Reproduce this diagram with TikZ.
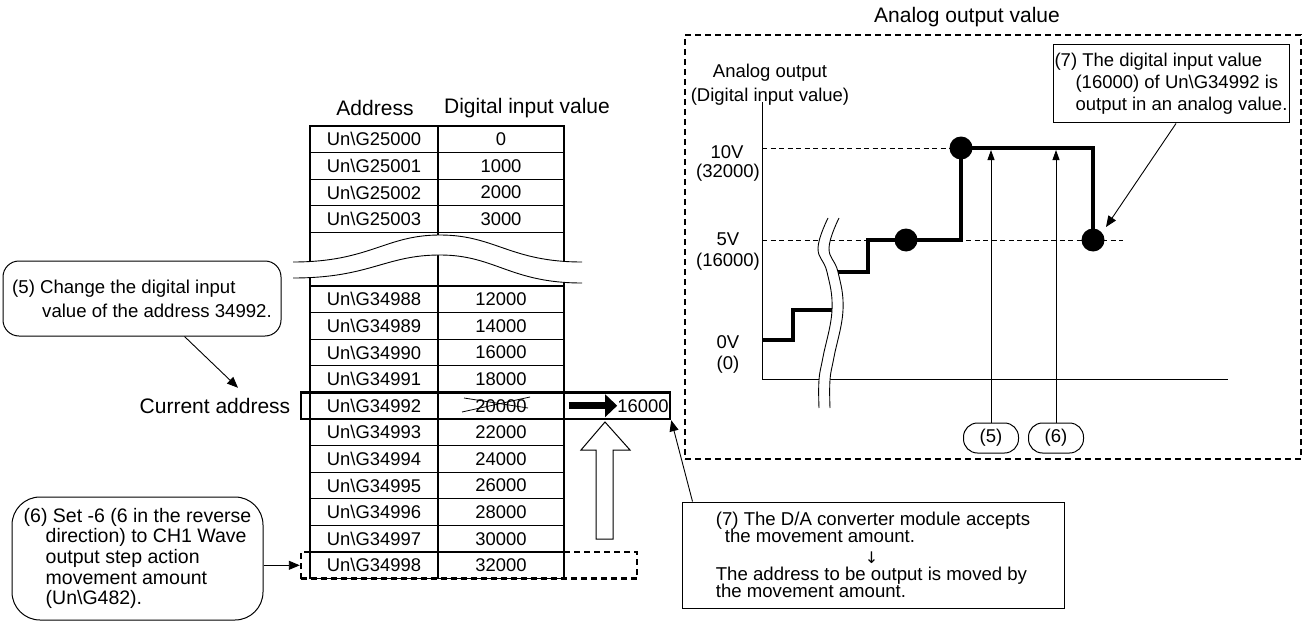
\documentclass[tikz,border=0pt]{standalone}
\usepackage{fontspec}
\setmainfont{Liberation Sans}
\newfontfamily\djv{DejaVu Sans}
\usetikzlibrary{arrows.meta,calc}
\setlength{\lineskiplimit}{-10pt}
\begin{document}
\begin{tikzpicture}[x=1pt,y=-1pt,
  line join=miter,
  acell/.style={draw,line width=1.1pt,minimum width=128pt,minimum height=26.6pt,inner sep=0pt,font=\fontsize{18.4}{22}\selectfont},
  vcell/.style={acell,minimum width=126pt},
  hdr/.style={inner sep=0pt,font=\fontsize{21}{25}\selectfont},
  lbl/.style={inner sep=0pt,font=\fontsize{18.5}{22}\selectfont},
  cbox/.style={draw,line width=1pt,align=left,inner xsep=2pt,inner ysep=0pt},
  thinarr/.style={line width=0.9pt,-{Triangle[length=11pt,width=9pt]}},
  garr/.style={line width=0.9pt,-{Triangle[length=10pt,width=7pt]}},
  dashbox/.style={draw,line width=2.4pt,dash pattern=on 6pt off 4pt,inner sep=0pt},
  guide/.style={line width=0.8pt,dash pattern=on 5pt off 3.5pt},
  stepln/.style={line width=4pt},
  gdot/.style={circle,fill=black,inner sep=0pt,minimum size=23pt},
  oval/.style={draw,line width=1pt,rounded corners=14pt,minimum width=55pt,minimum height=30pt,inner sep=0pt,font=\fontsize{18.5}{22}\selectfont},
]
\useasboundingbox (0,0) rectangle (1308,623);

% ---------- table ----------
\node[hdr] (hA) at (375,108) {Address};
\node[hdr] (hV) at (527,108) {Digital input value};

\foreach \a/\v/\y in {25000/0/139.3, 25001/1000/165.9, 25002/2000/192.5, 25003/3000/219.1}{
  \node[acell] (a\a) at (374,\y) {Un\textbackslash G\a};
  \node[vcell] (v\a) at (501,\y) {\v};
}
\node[acell,minimum height=53.5pt] (ablank) at (374,259.25) {};
\node[vcell,minimum height=53.5pt] (vblank) at (501,259.25) {};

\foreach \a/\v/\y in {34988/12000/299.3, 34989/14000/325.9, 34990/16000/352.5, 34991/18000/379.1,
  34992/20000/405.7, 34993/22000/432.3, 34994/24000/458.9, 34995/26000/485.5,
  34996/28000/512.1, 34997/30000/538.7, 34998/32000/565.3}{
  \node[acell] (a\a) at (374,\y) {Un\textbackslash G\a};
  \node[vcell] (v\a) at (501,\y) {\v};
}

% break of the table
\fill[white] (293,262) .. controls (370,262) and (385,235) .. (440,235) .. controls (495,235) and (510,262) .. (582,262)
  -- (582,283) .. controls (510,283) and (495,255) .. (440,255) .. controls (385,255) and (370,278) .. (293,278) -- cycle;
\draw[line width=0.9pt] (293,262) .. controls (370,262) and (385,235) .. (440,235) .. controls (495,235) and (510,262) .. (582,262);
\draw[line width=0.9pt] (293,278) .. controls (370,278) and (385,255) .. (440,255) .. controls (495,255) and (510,283) .. (582,283);

% strike-through of 20000
\draw[line width=0.8pt] ($(v34992.center)+(-39,6.3)$) -- ($(v34992.center)+(29,-8.7)$);
\draw[line width=0.8pt] ($(v34992.center)+(-37,-7.7)$) -- ($(v34992.center)+(27,2.3)$);

% current address box and new value
\node[draw,line width=2.5pt,minimum width=369pt,minimum height=26.6pt,inner sep=0pt] (cur) at (485.5,405.7) {};
\node[inner sep=0pt,font=\fontsize{18.4}{22}\selectfont] (newval) at (643,405.7) {16000};
\draw[line width=7pt,-{Triangle[length=12pt,width=22pt]}] ($(v34992.east)+(4,0)$) -- (newval.west);

% hollow up arrow
\draw[line width=1pt,fill=white] (596,539) -- (613,539) -- (613,450) -- (630,450) -- (605,422) -- (581,450) -- (596,450) -- cycle;

% dashed selection of row 34998
\node[dashbox,minimum width=336pt,minimum height=26.6pt] (rowsel) at (469,565.3) {};

% ---------- left callouts ----------
\node[cbox,rounded corners=16pt,minimum width=278pt,minimum height=75pt,font=\fontsize{18.6}{24}\selectfont] (c5) at (142,298.5)
  {(5) Change the digital input\\\hspace*{30pt}value of the address 34992.};
\node[hdr] (curlbl) at (215,405.7) {Current address};
\draw[thinarr] ($(c5.south west)+(182,0)$) -- ($(curlbl.north)+(23,-10)$);

\node[cbox,rounded corners=28pt,minimum width=251pt,minimum height=123pt,font=\fontsize{19.5}{20.7}\selectfont] (c6) at (137.5,558.5)
  {(6) Set -6 (6 in the reverse\\\hspace*{22pt}direction) to CH1 Wave\\\hspace*{22pt}output step action\\\hspace*{22pt}movement amount\\\hspace*{22pt}(Un\textbackslash G482).};
\draw[thinarr] (c6.east |- rowsel.west) -- (rowsel.west);

% ---------- bottom right callout ----------
\node[cbox,minimum width=382pt,minimum height=106pt,font=\fontsize{18.6}{17}\selectfont] (c7b) at (873,555)
  {(7) The D/A converter module accepts\\\hspace*{9pt}the movement amount.\\[4pt]\hspace*{149pt}{\djv\fontsize{16}{17}\selectfont ↓}\\The address to be output is moved by\\the movement amount.};
\draw[thinarr] ($(c7b.north west)+(11,0)$) -- (cur.south east);

% ---------- graph ----------
\node[hdr] (title) at (967,17) {Analog output value};
\node[dashbox,minimum width=616pt,minimum height=424pt] (gbox) at (993,247) {};

\node[lbl] (yl1) at (770,73) {Analog output};
\node[lbl] (yl2) at (770,97) {(Digital input value)};
\node[lbl] (l10) at (727,152) {10V};
\node[lbl] (l10b) at (728,173) {(32000)};
\node[lbl] (l5) at (728,239) {5V};
\node[lbl] (l5b) at (728,262) {(16000)};
\node[lbl] (l0) at (728,342) {0V};
\node[lbl] (l0b) at (728,365) {(0)};

\coordinate (O) at (762,379);
\coordinate (Ytop) at (762,102);
\coordinate (Xend) at (1228,379);
\draw[line width=0.9pt] (Ytop) -- (O) -- (Xend);

\draw[guide] (762,148) -- (961,148);
\draw[guide] (762,240) -- (1123,240);

\draw[stepln] (762,340) -- (793,340) -- (793,310) -- (840,310);
\draw[stepln] (830,272) -- (868,272) -- (868,240) -- (961,240) -- (961,148) -- (1093,148) -- (1093,240);

\node[gdot] (d1) at (906,240) {};
\node[gdot] (d2) at (961,148) {};
\node[gdot] (d3) at (1093,240) {};

% break of the graph
\fill[white] plot[smooth,tension=0.7] coordinates {(828,218)(818,248)(827,272)(832,310)(823,357)(819,380)(819,408)}
  -- plot[smooth,tension=0.7] coordinates {(830,408)(830,380)(834,357)(843,310)(838,272)(829,248)(839,218)} -- cycle;
\draw[line width=0.9pt] plot[smooth,tension=0.7] coordinates {(828,218)(818,248)(827,272)(832,310)(823,357)(819,380)(819,408)};
\draw[line width=0.9pt] plot[smooth,tension=0.7] coordinates {(839,218)(829,248)(838,272)(843,310)(834,357)(830,380)(830,408)};

% (5) and (6) markers
\node[oval] (o5) at (991,438) {(5)};
\node[oval] (o6) at (1056,438) {(6)};
\coordinate (t5) at (991,150);
\coordinate (t6) at (1056,150);
\draw[garr] (o5) -- (t5);
\draw[garr] (o6) -- (t6);

% top right callout
\node[cbox,minimum width=236pt,minimum height=78pt,inner xsep=1pt,font=\fontsize{18.5}{22}\selectfont] (c7t) at (1171,84)
  {(7) The digital input value\\\hspace*{21pt}(16000) of Un\textbackslash G34992 is\\\hspace*{21pt}output in an analog value.};
\draw[thinarr] ($(c7t.south)+(5,0)$) -- ($(d3.center)+(13,-13)$);
\end{tikzpicture}
\end{document}
